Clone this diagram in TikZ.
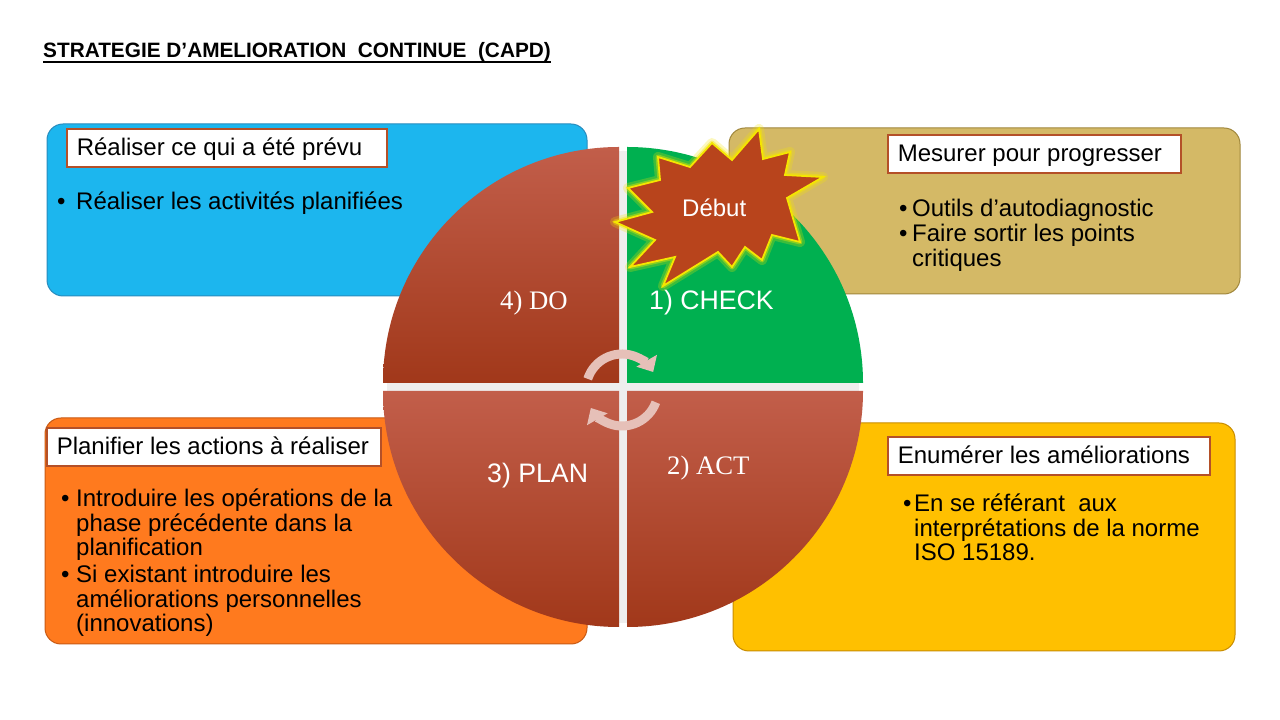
\documentclass[tikz,border=0pt]{standalone}
\usepackage{fontspec}
\setmainfont{Liberation Sans}
\newfontfamily\serifq{Liberation Serif}
\usetikzlibrary{arrows.meta}
\definecolor{bluebox}{RGB}{28,182,238}
\definecolor{blueedge}{RGB}{40,140,190}
\definecolor{tanbox}{RGB}{212,185,102}
\definecolor{tanedge}{RGB}{160,135,60}
\definecolor{orangebox}{RGB}{255,122,30}
\definecolor{orangeedge}{RGB}{200,90,20}
\definecolor{yellowbox}{RGB}{255,192,0}
\definecolor{yellowedge}{RGB}{200,140,0}
\definecolor{quadtop}{RGB}{194,94,74}
\definecolor{quadbot}{RGB}{161,56,26}
\definecolor{checkgreen}{RGB}{0,176,80}
\definecolor{lbledge}{RGB}{180,80,40}
\definecolor{starfill}{RGB}{184,68,28}
\definecolor{starline}{RGB}{245,230,0}
\definecolor{cyclearrow}{RGB}{230,192,184}
\definecolor{gapgrey}{RGB}{238,238,238}
\begin{document}
\begin{tikzpicture}[x=1pt,y=1pt,
  panel/.style={rounded corners=16pt, line width=1pt},
  quad/.style={top color=quadtop, bottom color=quadbot, draw=none},
  lbl/.style={draw=lbledge, line width=1.6pt, fill=white, inner xsep=10pt, inner ysep=0pt,
    minimum height=38pt, text height=20pt, text depth=5pt, anchor=west,
    font=\fontsize{24}{28}\selectfont},
  body/.style={anchor=base west, inner sep=0pt, font=\fontsize{24}{24.5}\selectfont},
  qlabel/.style={anchor=base west, inner sep=0pt, text=white, font=\fontsize{26.7}{30}\selectfont},
  qserif/.style={font=\serifq\fontsize{26.7}{30}\selectfont},
  cyc/.style={draw=cyclearrow, line width=9pt, -{Triangle[width=23pt,length=13pt]}},
]
\useasboundingbox (0,0) rectangle (1280,720);
\fill[white] (0,0) rectangle (1280,720);

% title
\node[anchor=base west, inner sep=0pt, font=\bfseries\fontsize{20.8}{24}\selectfont] (title) at (43,662.7)
  {STRATEGIE D’AMELIORATION\ \ CONTINUE\ \ (CAPD)};
\draw[line width=1.5pt] ([yshift=-4.5pt]title.base west) -- ([yshift=-4.5pt]title.base east);

% panels
\draw[panel, fill=bluebox, draw=blueedge] (47,424) rectangle (587,596);
\draw[panel, fill=tanbox, draw=tanedge] (729,426) rectangle (1240,592);
\draw[panel, fill=orangebox, draw=orangeedge] (45,76) rectangle (587,302);
\draw[panel, fill=yellowbox, draw=yellowedge] (733,69) rectangle (1235,297);

% gap behind quadrants
\begin{scope}
  \clip (623,333) circle[radius=236];
  \fill[gapgrey] (380,329) rectangle (866,337);
  \fill[gapgrey] (619,90) rectangle (627,576);
\end{scope}

% quadrants
\path[quad] (619,337) -- (383,337) arc[start angle=180, end angle=90, radius=236] -- cycle;
\fill[checkgreen] (627,337) -- (627,573) arc[start angle=90, end angle=0, radius=236] -- cycle;
\path[quad] (619,329) -- (619,93) arc[start angle=270, end angle=180, radius=236] -- cycle;
\path[quad] (627,329) -- (863,329) arc[start angle=0, end angle=-90, radius=236] -- cycle;

% quadrant labels
\node[qlabel, qserif] (do) at (500,410) {4) DO};
\node[qlabel] (check) at (649,410) {1) CHECK};
\node[qlabel] (plan) at (487,237) {3) PLAN};
\node[qlabel, qserif] (act) at (667,245) {2) ACT};

% cycle arrows
\coordinate (cc) at (622,330);
\draw[cyc] (cc) ++(162:36) arc[start angle=162, end angle=30, radius=36];
\draw[cyc] (cc) ++(-20:36) arc[start angle=-20, end angle=-150, radius=36];

% label boxes
\node[lbl] (l1) at (66,572) {\makebox[300pt][l]{Réaliser ce qui a été prévu}};
\node[lbl] (l2) at (887,566) {\makebox[273pt][l]{Mesurer pour progresser}};
\node[lbl] (l3) at (46,273) {\makebox[314pt][l]{Planifier les actions à réaliser}};
\node[lbl] (l4) at (887,264) {\makebox[302pt][l]{Enumérer les améliorations}};

% bullets
\node[body] (b1d) at (57,510) {•};
\node[body] (b1) at (76,510) {Réaliser les activités planifiées};
\node[body] (b2d) at (899,503) {•};
\node[body] (b2) at (912,503) {Outils d’autodiagnostic};
\node[body] (b3d) at (899,478) {•};
\node[body] (b3) at (912,478) {\parbox[t]{320pt}{\raggedright Faire sortir les points\\critiques}};
\node[body] (b4d) at (61,213) {•};
\node[body] (b4) at (76,213) {\parbox[t]{330pt}{\raggedright Introduire les opérations de la\\phase précédente dans la\\planification}};
\node[body] (b5d) at (61,137) {•};
\node[body] (b5) at (76,137) {\parbox[t]{330pt}{\raggedright Si existant introduire les\\améliorations personnelles\\(innovations)}};
\node[body] (b6d) at (903,208) {•};
\node[body] (b6) at (914,208) {\parbox[t]{330pt}{\raggedright En se référant\ \ aux\\interprétations de la norme\\ISO 15189.}};

% starburst
\def\starpath{(759,591) -- (763,561) -- (790,568) -- (785,545) -- (823,543) -- (787,522) -- (800,478) -- (772,485) -- (762,460) -- (745,473) -- (732,453) -- (718,468) -- (663,434) -- (675,463) -- (630,453) -- (655,480) -- (615,498) -- (652,508) -- (628,532) -- (660,540) -- (658,563) -- (690,553) -- (712,577) -- (732,560) -- cycle}
\draw[starline, line width=10pt, opacity=0.25, line join=round] \starpath;
\draw[starline, line width=5pt, opacity=0.4, line join=round] \starpath;
\draw[fill=starfill, draw=starline, line width=1.8pt] \starpath;
\node[anchor=base west, inner sep=0pt, text=white, font=\fontsize{24}{28}\selectfont] (debut) at (682,503) {Début};
\end{tikzpicture}
\end{document}
